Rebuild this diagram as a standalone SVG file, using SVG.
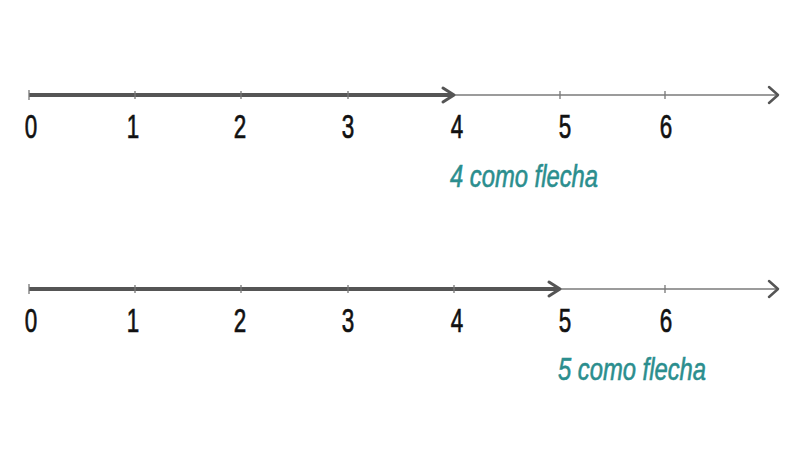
<svg xmlns="http://www.w3.org/2000/svg" width="806" height="451" viewBox="0 0 806 451">
<style>
.thin{stroke:#7a7a7a;stroke-width:1.5;fill:none}
.thick{stroke:#555;stroke-width:4;fill:none}
.head{stroke:#555;stroke-width:3;fill:none;stroke-linecap:round;stroke-linejoin:round}
.headthin{stroke:#555;stroke-width:2.5;fill:none;stroke-linecap:round;stroke-linejoin:round}
.tick{stroke:#777;stroke-width:1.3}
.num{font-family:"Liberation Sans",Arial,sans-serif;font-size:33px;fill:#111;stroke:#111;stroke-width:0.7;text-anchor:middle}
.lab{font-family:"Liberation Sans",Arial,sans-serif;font-size:32px;font-style:italic;fill:#2b8e8e;stroke:#2b8e8e;stroke-width:0.6}
</style>
<rect width="806" height="451" fill="#fff"/>
<g id="connectors">
  <line class="thin" x1="29" y1="95" x2="776" y2="95"/>
  <line class="thick" x1="29" y1="95" x2="452" y2="95"/>
  <polyline class="head" points="443,88 454,95 443,102"/>
  <polyline class="headthin" points="769,87 778,95 769,103"/>
  <line class="thin" x1="29" y1="289" x2="776" y2="289"/>
  <line class="thick" x1="29" y1="289" x2="558" y2="289"/>
  <polyline class="head" points="549,282 560,289 549,296"/>
  <polyline class="headthin" points="769,281 778,289 769,297"/>
</g>
<g id="ticks1">
  <line class="tick" x1="29" y1="90" x2="29" y2="100"/>
  <line class="tick" x1="135" y1="91" x2="135" y2="99"/>
  <line class="tick" x1="241" y1="91" x2="241" y2="99"/>
  <line class="tick" x1="348" y1="91" x2="348" y2="99"/>
  <line class="tick" x1="560" y1="91" x2="560" y2="99"/>
  <line class="tick" x1="665" y1="91" x2="665" y2="99"/>
</g>
<g id="ticks2">
  <line class="tick" x1="29" y1="284" x2="29" y2="294"/>
  <line class="tick" x1="135" y1="285" x2="135" y2="293"/>
  <line class="tick" x1="241" y1="285" x2="241" y2="293"/>
  <line class="tick" x1="348" y1="285" x2="348" y2="293"/>
  <line class="tick" x1="454" y1="285" x2="454" y2="293"/>
  <line class="tick" x1="665" y1="285" x2="665" y2="293"/>
</g>
<g id="labels1">
  <text class="num" transform="translate(31,138) scale(0.68,1)">0</text>
  <text class="num" transform="translate(133,138) scale(0.68,1)">1</text>
  <text class="num" transform="translate(240,138) scale(0.68,1)">2</text>
  <text class="num" transform="translate(348,138) scale(0.68,1)">3</text>
  <text class="num" transform="translate(457,138) scale(0.68,1)">4</text>
  <text class="num" transform="translate(565,138) scale(0.68,1)">5</text>
  <text class="num" transform="translate(666,138) scale(0.68,1)">6</text>
</g>
<g id="labels2">
  <text class="num" transform="translate(31,332) scale(0.68,1)">0</text>
  <text class="num" transform="translate(133,332) scale(0.68,1)">1</text>
  <text class="num" transform="translate(240,332) scale(0.68,1)">2</text>
  <text class="num" transform="translate(348,332) scale(0.68,1)">3</text>
  <text class="num" transform="translate(457,332) scale(0.68,1)">4</text>
  <text class="num" transform="translate(565,332) scale(0.68,1)">5</text>
  <text class="num" transform="translate(666,332) scale(0.68,1)">6</text>
</g>
<g id="caption1">
  <text class="lab" x="450" y="187" textLength="148" lengthAdjust="spacingAndGlyphs">4 como flecha</text>
</g>
<g id="caption2">
  <text class="lab" x="558" y="380" textLength="148" lengthAdjust="spacingAndGlyphs">5 como flecha</text>
</g>
</svg>
